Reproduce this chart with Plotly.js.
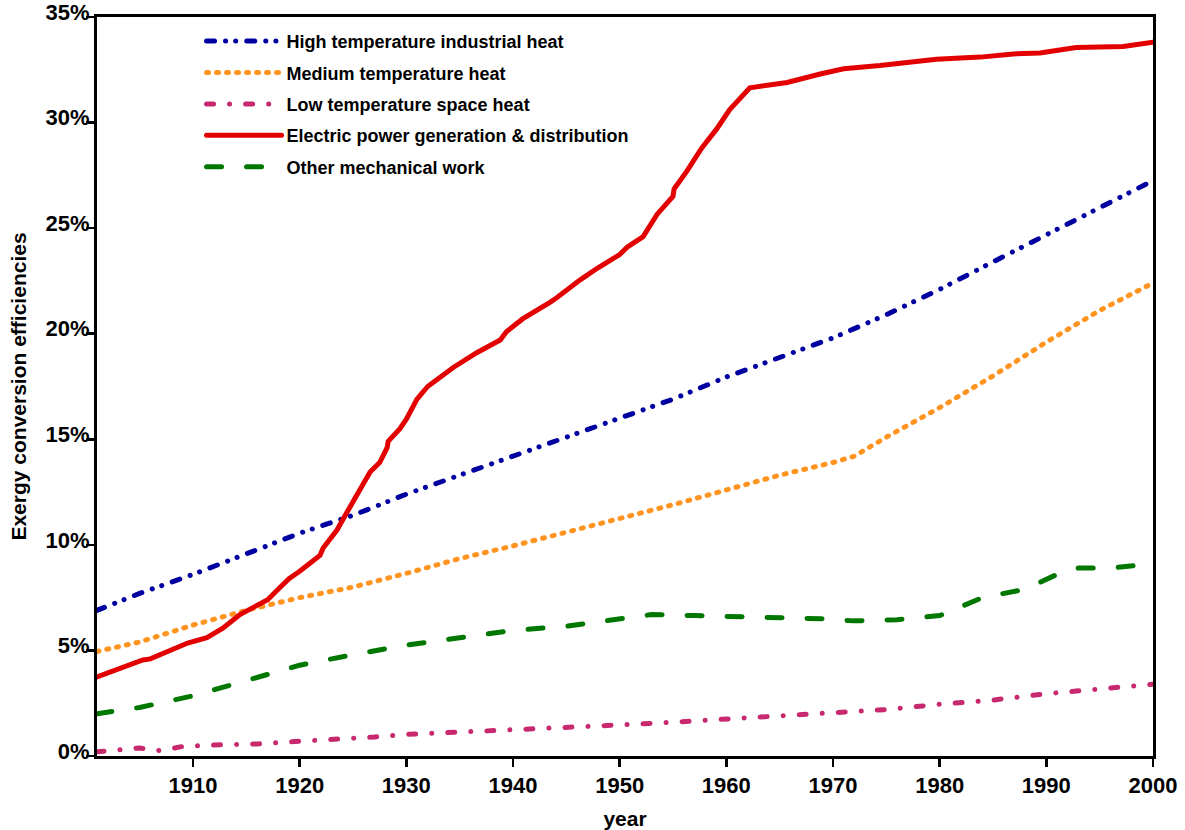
<!DOCTYPE html>
<html>
<head>
<meta charset="utf-8">
<script src="https://cdn.plot.ly/plotly-3.0.1.min.js"></script>
<style>
  html, body { margin: 0; padding: 0; background: #fff; }
  #chart { width: 1185px; height: 830px; }
  .js-line { stroke-linecap: round; }
</style>
</head>
<body>
<div id="chart"></div>
<script>
// Series names
const seriesNames = [
  "High temperature industrial heat",
  "Medium temperature heat",
  "Low temperature space heat",
  "Electric power generation & distribution",
  "Other mechanical work"
];

// High temperature industrial heat (%)
const highYears = [1901,1905,1910,1915,1920,1925,1930,1935,1940,1945,1950,1955,1960,1965,1970,1975,1980,1985,1990,1995,2000];
const highVals  = [6.9,7.7,8.6,9.6,10.55,11.4,12.4,13.3,14.2,15.1,15.95,16.9,17.95,18.9,19.8,20.9,22.1,23.4,24.7,25.95,27.25];

// Medium temperature heat (%)
const medYears = [1901,1905,1910,1915,1920,1925,1930,1935,1940,1945,1950,1955,1960,1965,1970,1972,1975,1980,1985,1990,1995,2000];
const medVals  = [4.95,5.4,6.2,6.9,7.5,8.0,8.65,9.35,9.95,10.6,11.2,11.9,12.6,13.3,13.9,14.2,15.1,16.5,18.0,19.6,21.1,22.4];

// Low temperature space heat (%)
const lowYears = [1901,1905,1907,1909,1912,1916,1920,1924,1927,1930,1935,1940,1945,1950,1955,1960,1965,1970,1975,1980,1985,1990,1995,2000];
const lowVals  = [0.2,0.38,0.25,0.45,0.52,0.57,0.7,0.8,0.9,1.02,1.12,1.25,1.35,1.47,1.6,1.75,1.85,2.0,2.2,2.45,2.65,2.95,3.2,3.4];

// Electric power generation & distribution (%)
const elecYears = [1901,1903,1905.3,1906,1908,1909.5,1911.3,1912.8,1914.4,1916,1917,1918.2,1919,1920,1921.9,1922.2,1923.5,1924.5,1926,1926.6,1927.5,1928.2,1928.3,1929.4,1930,1931,1932,1934.4,1936.6,1938.8,1939.4,1940.9,1943.5,1944.1,1946.3,1947.9,1950,1950.7,1952.2,1953.5,1955,1955.1,1956.3,1957.7,1959.1,1960.3,1962.2,1965.7,1968.8,1971,1974.4,1978.8,1979.7,1983.8,1986.9,1989.4,1992.8,1997.2,2000];
const elecVals  = [3.75,4.15,4.55,4.6,5.05,5.35,5.6,6.05,6.7,7.15,7.4,8.0,8.4,8.75,9.5,9.85,10.7,11.6,12.9,13.45,13.9,14.6,14.9,15.5,15.95,16.9,17.5,18.4,19.1,19.7,20.1,20.7,21.5,21.7,22.55,23.1,23.75,24.1,24.6,25.65,26.5,26.85,27.7,28.8,29.7,30.6,31.65,31.9,32.3,32.55,32.7,32.9,33.0,33.1,33.25,33.3,33.55,33.6,33.8];

// Other mechanical work (%)
const mechYears = [1901,1905,1910,1915,1920,1925,1927,1930,1935,1940,1945,1950,1953,1957,1961,1965,1969,1972,1976,1980,1984,1988,1991,1993,1996,2000];
const mechVals  = [2.0,2.3,2.85,3.6,4.3,4.8,5.0,5.25,5.6,5.95,6.15,6.5,6.7,6.65,6.6,6.6,6.5,6.4,6.45,6.65,7.5,7.9,8.6,8.9,8.9,9.1];

// Axis ticks
const xTickVals = [1910,1920,1930,1940,1950,1960,1970,1980,1990,2000];
const yTickVals = [0,5,10,15,20,25,30,35];
const yTickText = ["0%","5%","10%","15%","20%","25%","30%","35%"];

const FONT = "Liberation Sans, Arial, Helvetica, sans-serif";

function tr(name, xs, ys, color, dash, width, grp) {
  return {
    type: "scatter", mode: "lines", name: name, x: xs, y: ys,
    legendgroup: grp,
    line: { color: color, width: width, dash: dash },
    hoverinfo: "skip"
  };
}

const data = [
  tr(seriesNames[0], highYears, highVals, "#0000A0", "8px,11px,0.1px,10px,0.1px,11px", 5, "g1"),
  tr(seriesNames[1], medYears, medVals, "#FF9420", "2px,8px", 5, "g2"),
  tr(seriesNames[2], lowYears, lowVals, "#C8286E", "7px,16px,0.1px,16px", 5, "g3"),
  tr(seriesNames[3], elecYears, elecVals, "#E20000", "solid", 5, "g4"),
  tr(seriesNames[4], mechYears, mechVals, "#007800", "15px,25px", 5, "g5")
];

const layout = {
  width: 1185, height: 830,
  margin: { l: 97, r: 32, t: 17, b: 74 },
  paper_bgcolor: "#ffffff", plot_bgcolor: "#ffffff",
  font: { family: FONT, color: "#000" },
  showlegend: true,
  legend: {
    x: 0.099, y: 0.992, xanchor: "left", yanchor: "top",
    bgcolor: "rgba(0,0,0,0)", borderwidth: 0,
    font: { family: FONT, size: 18, weight: "bold", color: "#000" },
    itemwidth: 75, tracegroupgap: 5, traceorder: "grouped"
  },
  xaxis: {
    range: [1901, 2000], tickmode: "array", tickvals: xTickVals,
    ticks: "outside", ticklen: 8, tickwidth: 2.5, tickcolor: "#000",
    showline: true, linewidth: 3, linecolor: "#000", mirror: true,
    showgrid: false, zeroline: false,
    tickfont: { family: FONT, size: 22, weight: "bold", color: "#000" },
    title: { text: "year", font: { family: FONT, size: 21, weight: "bold", color: "#000" }, standoff: 14 },
    automargin: false
  },
  yaxis: {
    range: [0, 35], tickmode: "array", tickvals: yTickVals, ticktext: yTickText,
    ticks: "outside", ticklen: 8, tickwidth: 2.5, tickcolor: "#000",
    showline: true, linewidth: 3, linecolor: "#000", mirror: true,
    showgrid: false, zeroline: false,
    ticklabelstandoff: -8, ticklabelshift: -5, ticklabeloverflow: "allow",
    tickfont: { family: FONT, size: 22, weight: "bold", color: "#000" },
    title: { text: "Exergy conversion efficiencies", font: { family: FONT, size: 21, weight: "bold", color: "#000" }, standoff: 14 },
    automargin: false
  }
};

Plotly.newPlot("chart", data, layout, { displayModeBar: false, staticPlot: true });
</script>
</body>
</html>
